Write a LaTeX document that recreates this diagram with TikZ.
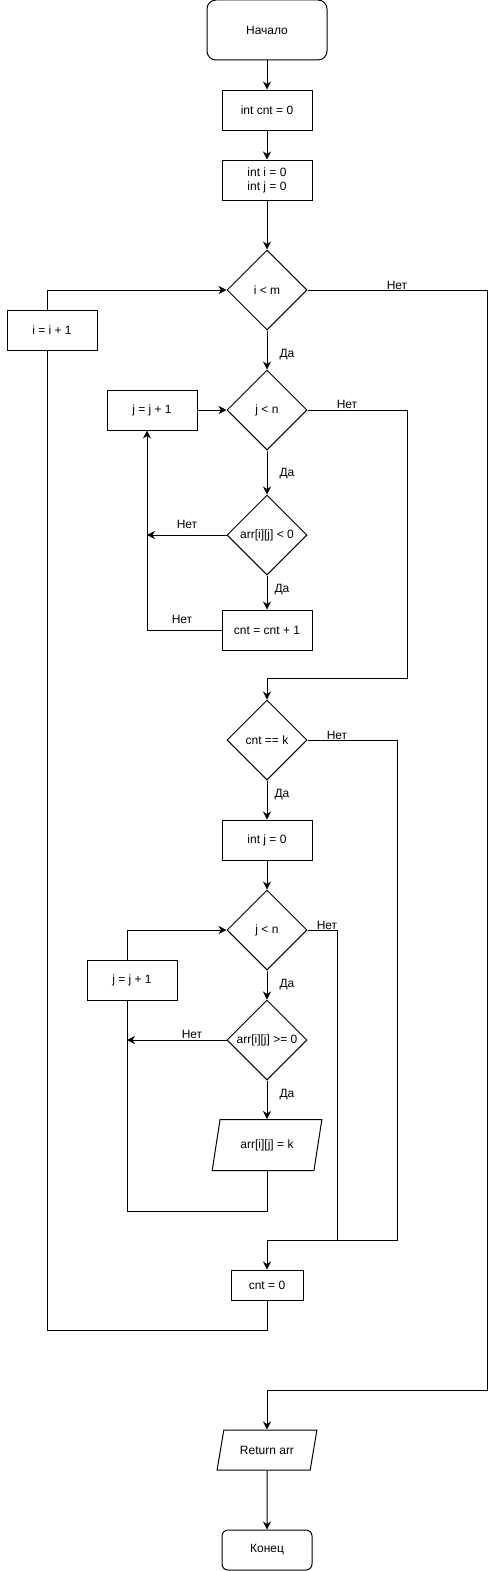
\documentclass[tikz,border=0pt]{standalone}
\usepackage{fontspec}
\setmainfont{Liberation Sans}
\usetikzlibrary{shapes.geometric, arrows.meta}

\tikzset{every node/.style={font=\fontsize{12}{14}\selectfont}}
\tikzset{
	startstop/.style={rectangle, draw, rounded corners=9pt},
	proc/.style={rectangle, draw, minimum width=90pt, minimum height=40pt},
	cond/.style={diamond, draw, minimum width=80pt, minimum height=80pt, inner sep=0pt},
	inout/.style={trapezium, draw, trapezium stretches=true, inner sep=0pt},
	lbl/.style={inner sep=0pt},
	arr/.style={-{Stealth[length=8pt, width=8pt, inset=2.5pt]}}
}

\begin{document}
\begin{tikzpicture}[x=1pt, y=-1pt, line width=1pt]
			\useasboundingbox (0,0) rectangle (497,1571);
			
			% Start and setup
			\node[startstop, minimum width=120pt, minimum height=60pt] (begin) at (267,30) {Начало};
			\node[proc] (initcnt) at (267,110) {int cnt = 0};
			\node[proc, align=center] (initij) at (267,180) {int i = 0\\int j = 0};
			
			% Outer loop over i
			\node[cond] (condi) at (267,290) {i < m};
			\node[proc] (inci) at (52,330) {i = i + 1};
			
			% First inner loop (counting)
			\node[cond] (condj) at (267,410) {j < n};
			\node[proc] (incj) at (152,410) {j = j + 1};
			\node[cond] (condneg) at (267,535) {arr[i][j] < 0};
			\node[proc] (inccnt) at (267,630) {cnt = cnt + 1};
			
			% Check and second inner loop
			\node[cond] (condk) at (267,740) {cnt == k};
			\node[proc] (resetj) at (267,840) {int j = 0};
			\node[cond] (condj2) at (267,930) {j < n};
			\node[proc] (incj2) at (132,980) {j = j + 1};
			\node[cond] (condpos) at (267,1040) {arr[i][j] >= 0};
			\node[inout, trapezium left angle=68.2, trapezium right angle=111.8, minimum width=110pt, minimum height=51pt] (setk) at (267,1145) {arr[i][j] = k};
			\node[proc, minimum width=72pt, minimum height=30pt] (resetcnt) at (267,1285) {cnt = 0};
			
			% End
			\node[inout, trapezium left angle=63.4, trapezium right angle=116.6, minimum width=100pt, minimum height=40pt] (ret) at (267,1450) {Return arr};
			\node[startstop, rounded corners=6pt, minimum width=90pt, minimum height=40pt] (finish) at (267,1550) {Конец};
			
			% Bend points
			\coordinate (ibend) at (487,1390);
			\coordinate (jbend) at (407,678);
			\coordinate (kbend) at (397,1240);
			\coordinate (j2bend) at (337,1240);
			\coordinate (iback) at ([xshift=-5pt]inci.south);
			\coordinate (jback) at ([xshift=-5pt]incj.south);
			\coordinate (j2back) at ([xshift=-5pt]incj2.south);
			
			% Straight flow
			\draw[arr] (begin) -- (initcnt);
			\draw[arr] (initcnt) -- (initij);
			\draw[arr] (initij) -- (condi);
			\draw[arr] (condi) -- (condj);
			\draw[arr] (condj) -- (condneg);
			\draw[arr] (condneg) -- (inccnt);
			\draw[arr] (incj) -- (condj);
			\draw[arr] (condk) -- (resetj);
			\draw[arr] (resetj) -- (condj2);
			\draw[arr] (condj2) -- (condpos);
			\draw[arr] (condpos) -- (setk);
			\draw[arr] (ret) -- (finish);
			
			% Loops back
			\draw[arr] ([xshift=-5pt]inci.north) |- (condi.west);
			\draw (resetcnt.south) -- ++(0,30) -| (iback);
			\draw[arr] (condneg.west) -- (condneg.west -| jback);
			\draw[arr] (inccnt.west) -| (jback);
			\draw[arr] ([xshift=-5pt]incj2.north) |- (condj2.west);
			\draw[arr] (condpos.west) -- (condpos.west -| j2back);
			\draw (setk.south) -- ++(0,40) -| (j2back);
			
			% Exits
			\draw[arr] (condi.east) -| (ibend) -| (ret.north);
			\draw[arr] (condj.east) -| (jbend) -| (condk.north);
			\draw[arr] (condk.east) -| (kbend) -| (resetcnt.north);
			\draw (condj2.east) -| (j2bend);
			
			% Branch labels
			\node[lbl] (noi) at (397,285) {Нет};
			\node[lbl] (yesi) at (287,355) {Да};
			\node[lbl] (noj) at (347,404) {Нет};
			\node[lbl] (yesj) at (287,474) {Да};
			\node[lbl] (noneg) at (187,524) {Нет};
			\node[lbl] (yesneg) at (282,590) {Да};
			\node[lbl] (nocnt) at (182,619) {Нет};
			\node[lbl] (nok) at (337,735) {Нет};
			\node[lbl] (yesk) at (282,795) {Да};
			\node[lbl] (noj2) at (327,925) {Нет};
			\node[lbl] (yesj2) at (287,985) {Да};
			\node[lbl] (nopos) at (192,1034) {Нет};
			\node[lbl] (yespos) at (287,1095) {Да};
		\end{tikzpicture}
\end{document}
